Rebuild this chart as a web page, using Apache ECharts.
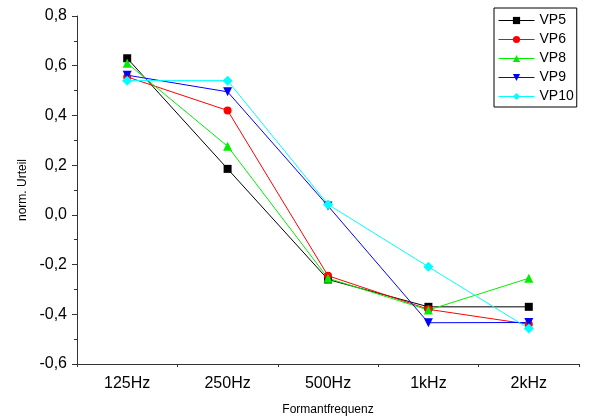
<!DOCTYPE html>
<html><head><meta charset="utf-8">
<script src="https://cdn.jsdelivr.net/npm/echarts@6/dist/echarts.min.js"></script>
<style>html,body{margin:0;padding:0;background:#fff}#c{width:605px;height:416px}</style>
</head><body><div id="c"></div>
<script>
const categories = ['125Hz','250Hz','500Hz','1kHz','2kHz'];
const VP5  = [0.63, 0.185, -0.26, -0.37, -0.37];
const VP6  = [0.555, 0.42, -0.245, -0.38, -0.44];
const VP8  = [0.61, 0.276, -0.255, -0.383, -0.255];
const VP9  = [0.562, 0.495, 0.036, -0.434, -0.433];
const VP10 = [0.54, 0.54, 0.042, -0.209, -0.457];
const yTicks = {min: -0.6, max: 0.8, interval: 0.2};

const font = 'Liberation Sans, Arial, sans-serif';
function mk(name, data, color, symbol, size){
  return {name, type:'line', data, symbol, symbolSize:size, showSymbol:true,
    lineStyle:{color, width:1}, itemStyle:{color}, animation:false,
    emphasis:{disabled:true}};
}
const chart = echarts.init(document.getElementById('c'));
chart.setOption({
  animation:false,
  grid:{left:77, right:26, top:16, bottom:52, containLabel:false, outerBoundsMode:'none'},
  legend:{orient:'vertical', left:494, top:8, padding:[5,3,3,4],
    borderColor:'#000', borderWidth:1, itemWidth:36, itemHeight:9, itemGap:4,
    lineStyle:{width:1},
    textStyle:{fontFamily:font, fontSize:14, color:'#000', lineHeight:15},
    data:['VP5','VP6','VP8','VP9','VP10']},
  xAxis:[{type:'category', data:categories, boundaryGap:true,
    axisLine:{onZero:false, lineStyle:{color:'#333', width:1}},
    axisTick:{alignWithLabel:true, length:5, lineStyle:{color:'#333'}},
    axisLabel:{fontFamily:font, fontSize:16, color:'#000', margin:12},
    name:'Formantfrequenz', nameLocation:'middle', nameGap:40,
    nameTextStyle:{fontFamily:font, fontSize:12, color:'#000'}},
   {type:'category', data:categories, boundaryGap:true, position:'bottom',
    axisLine:{show:false, onZero:false}, axisLabel:{show:false},
    axisTick:{show:true, length:3, lineStyle:{color:'#333'}}}],
  yAxis:{type:'value', min:yTicks.min, max:yTicks.max, interval:yTicks.interval,
    axisLine:{show:true, lineStyle:{color:'#333', width:1}},
    axisTick:{show:true, length:5, lineStyle:{color:'#333'}},
    minorTick:{show:true, splitNumber:2, length:3, lineStyle:{color:'#333'}},
    splitLine:{show:false},
    axisLabel:{fontFamily:font, fontSize:16, color:'#000', margin:10,
      formatter:v=>{const s=(Math.abs(v)<1e-9?0:v).toFixed(1);return s.replace('.',',');}},
    name:'norm. Urteil', nameLocation:'middle', nameGap:48,
    nameTextStyle:{fontFamily:font, fontSize:12, color:'#000'}},
  series:[
    mk('VP5', VP5, '#000000', 'rect', 8),
    mk('VP6', VP6, '#ff0000', 'circle', 8),
    mk('VP8', VP8, '#00ee00', 'triangle', 9),
    mk('VP9', VP9, '#0000ff', 'path://M0,0 L10,0 L5,9 Z', 9),
    mk('VP10', VP10, '#00ffff', 'diamond', 10)
  ]
});
</script></body></html>
